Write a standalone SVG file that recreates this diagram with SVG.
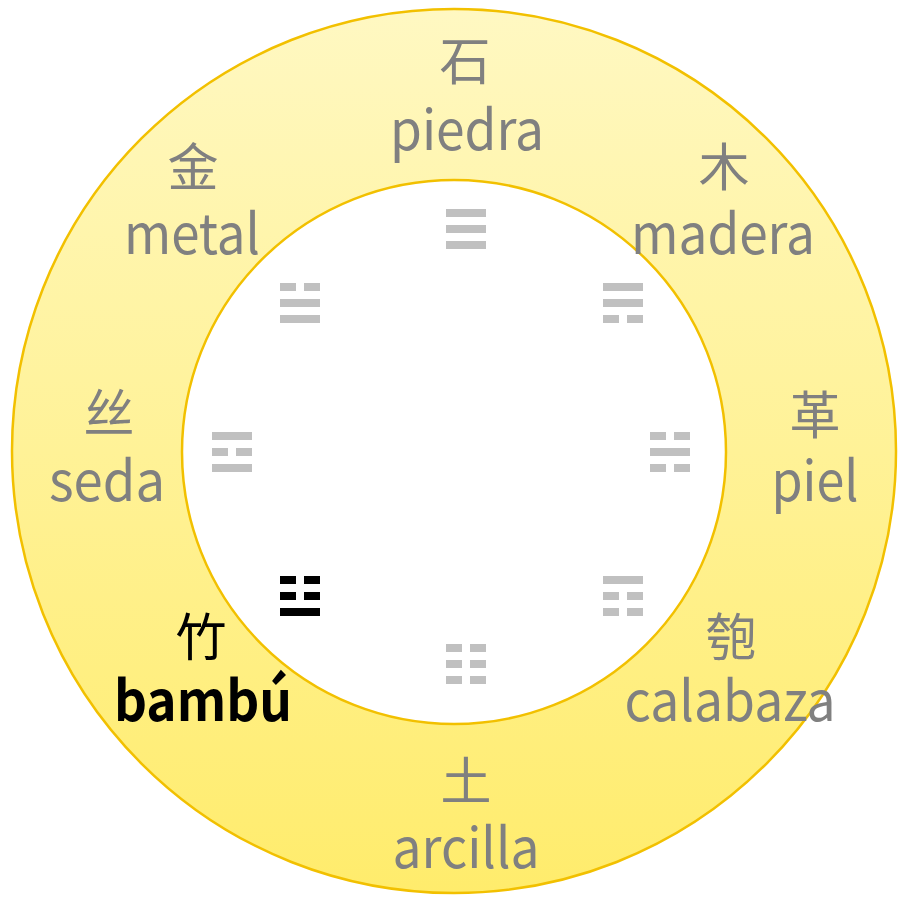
<svg xmlns="http://www.w3.org/2000/svg" width="898" height="897" viewBox="0 0 898 897">
<defs>
<linearGradient id="ring" x1="0" y1="0" x2="0" y2="1">
<stop offset="0" stop-color="#fff8c2"/>
<stop offset="1" stop-color="#ffec6c"/>
</linearGradient>
<rect id="s" width="40" height="8"/>
<g id="b"><rect width="16" height="8"/><rect x="24" width="16" height="8"/></g>
</defs>
<style>
.ring{stroke:#f2c000;stroke-width:2.5}
.zh{font-family:"Noto Sans CJK SC","Noto Sans CJK JP",sans-serif;font-size:51px;text-anchor:middle}
.en{font-family:"Noto Sans CJK SC","Noto Sans",sans-serif;font-size:56px;text-anchor:middle}
.lbl{fill:#808080}
.act{fill:#000}
.act .en{font-weight:bold}
.tg{fill:#c0c0c0}
.tg.on{fill:#000}
</style>
<g id="rings">
<circle class="ring" cx="454" cy="451" r="442" fill="url(#ring)"/>
<circle class="ring" cx="454" cy="452" r="272" fill="#fff"/>
</g>
<g id="connectors"/>
<g id="node-piedra" class="lbl"><text class="zh" x="465" y="80">石</text><text class="en" x="467" y="150" textLength="154" lengthAdjust="spacingAndGlyphs">piedra</text></g>
<g id="node-madera" class="lbl"><text class="zh" x="724" y="186">木</text><text class="en" x="723" y="254" textLength="184" lengthAdjust="spacingAndGlyphs">madera</text></g>
<g id="node-piel" class="lbl"><text class="zh" x="815" y="434">革</text><text class="en" x="815" y="501" textLength="87" lengthAdjust="spacingAndGlyphs">piel</text></g>
<g id="node-calabaza" class="lbl"><text class="zh" x="731" y="656">匏</text><text class="en" x="730" y="721" textLength="211" lengthAdjust="spacingAndGlyphs">calabaza</text></g>
<g id="node-arcilla" class="lbl"><text class="zh" x="466" y="800">土</text><text class="en" x="466" y="868" textLength="147" lengthAdjust="spacingAndGlyphs">arcilla</text></g>
<g id="node-bambu" class="act"><text class="zh" x="201" y="656">竹</text><text class="en" x="203" y="721" textLength="178" lengthAdjust="spacingAndGlyphs">bambú</text></g>
<g id="node-seda" class="lbl"><text class="zh" x="109" y="432">丝</text><text class="en" x="107" y="501" textLength="116" lengthAdjust="spacingAndGlyphs">seda</text></g>
<g id="node-metal" class="lbl"><text class="zh" x="193" y="186">金</text><text class="en" x="192" y="254" textLength="136" lengthAdjust="spacingAndGlyphs">metal</text></g>
<g id="trigram-top" class="tg" transform="translate(446,209)"><use href="#s"/><use href="#s" y="16"/><use href="#s" y="32"/></g>
<g id="trigram-topright" class="tg" transform="translate(603,283)"><use href="#s"/><use href="#s" y="16"/><use href="#b" y="32"/></g>
<g id="trigram-right" class="tg" transform="translate(650,432)"><use href="#b"/><use href="#s" y="16"/><use href="#b" y="32"/></g>
<g id="trigram-bottomright" class="tg" transform="translate(603,576)"><use href="#s"/><use href="#b" y="16"/><use href="#b" y="32"/></g>
<g id="trigram-bottom" class="tg" transform="translate(446,644)"><use href="#b"/><use href="#b" y="16"/><use href="#b" y="32"/></g>
<g id="trigram-bottomleft" class="tg on" transform="translate(280,576)"><use href="#b"/><use href="#b" y="16"/><use href="#s" y="32"/></g>
<g id="trigram-left" class="tg" transform="translate(212,432)"><use href="#s"/><use href="#b" y="16"/><use href="#s" y="32"/></g>
<g id="trigram-topleft" class="tg" transform="translate(280,283)"><use href="#b"/><use href="#s" y="16"/><use href="#s" y="32"/></g>
</svg>
